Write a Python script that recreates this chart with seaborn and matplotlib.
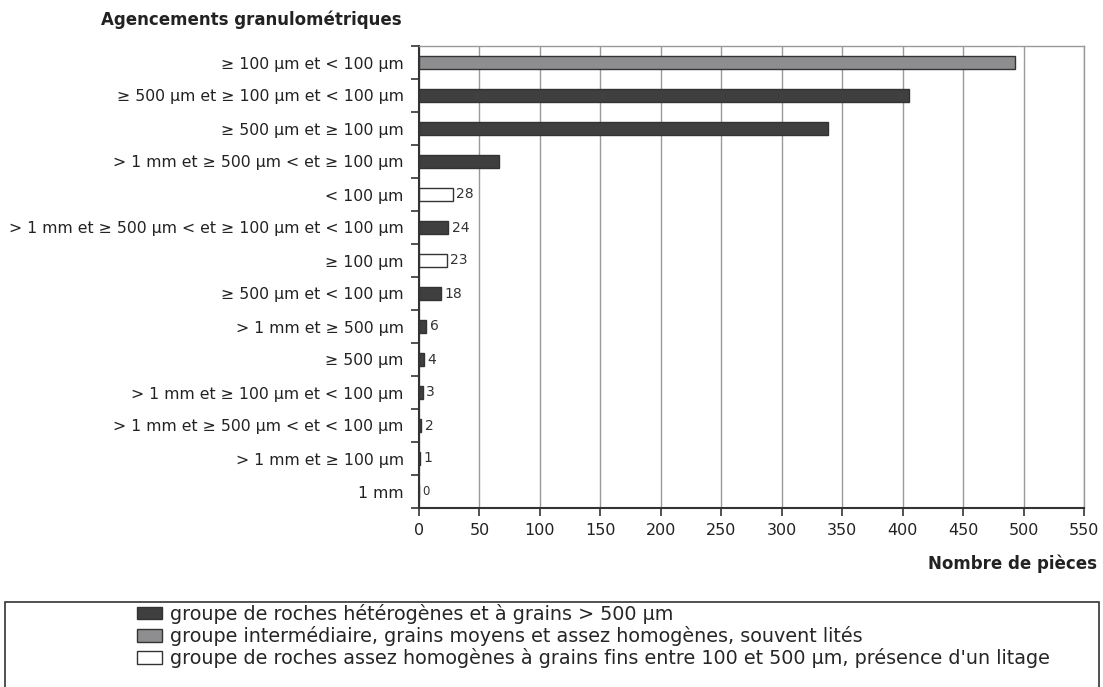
import numpy as np
import pandas as pd
import matplotlib.pyplot as plt
import seaborn as sns
from matplotlib.patches import Patch, Rectangle

sns.set_style("white")
plt.rcParams['font.family'] = ['DejaVu Sans']

# data
categories = [
    "≥ 100 µm et < 100 µm",
    "≥ 500 µm et ≥ 100 µm et < 100 µm",
    "≥ 500 µm et ≥ 100 µm",
    "> 1 mm et ≥ 500 µm < et ≥ 100 µm",
    "< 100 µm",
    "> 1 mm et ≥ 500 µm < et ≥ 100 µm et < 100 µm",
    "≥ 100 µm",
    "≥ 500 µm et < 100 µm",
    "> 1 mm et ≥ 500 µm",
    "≥ 500 µm",
    "> 1 mm et ≥ 100 µm et < 100 µm",
    "> 1 mm et ≥ 500 µm < et < 100 µm",
    "> 1 mm et ≥ 100 µm",
    "1 mm",
]
counts = [493, 405, 338, 66, 28, 24, 23, 18, 6, 4, 3, 2, 1, 0]
groups = ["inter", "hetero", "hetero", "hetero", "fin", "hetero", "fin",
          "hetero", "hetero", "hetero", "hetero", "hetero", "hetero", "hetero"]

group_labels = {
    "hetero": "groupe de roches hétérogènes et à grains > 500 µm",
    "inter": "groupe intermédiaire, grains moyens et assez homogènes, souvent lités",
    "fin": "groupe de roches assez homogènes à grains fins entre 100 et 500 µm, présence d'un litage",
}
palette = {"hetero": "#3f3f3f", "inter": "#8e8e90", "fin": "#ffffff"}

df = pd.DataFrame({"cat": categories, "n": counts, "groupe": groups})

fig = plt.figure(figsize=(11.03, 6.87), dpi=100)
ax = fig.add_axes([419 / 1103, 1 - 508 / 687, (1084 - 419) / 1103, (508 - 46) / 687])

sns.barplot(data=df, y="cat", x="n", hue="groupe", palette=palette, order=categories,
            dodge=False, width=0.4, edgecolor="#333333", linewidth=1, legend=False, ax=ax)

# value labels for the small bars
for i, (c, v) in enumerate(zip(categories, counts)):
    if v <= 30:
        ax.text(v + 3, i, str(v), va="center", ha="left", fontsize=10 if v else 8.5,
                color="#333333")

ax.set_xlim(0, 550)
ax.set_ylim(len(categories) - 0.5, -0.5)
ax.set_xticks(np.arange(0, 551, 50))
ax.xaxis.grid(True, color="#999999", linewidth=1)
ax.set_axisbelow(True)
ax.set_xlabel("")
ax.set_ylabel("")

ax.set_yticks(np.arange(len(categories)))
ax.set_yticklabels(categories, fontsize=11.3, color="#222222")
ax.set_yticks(np.arange(-0.5, len(categories), 1), minor=True)
ax.tick_params(axis="y", which="major", length=0, pad=11)
ax.tick_params(axis="y", which="minor", length=6, width=1.2, color="#333333", direction="out", left=True)
ax.tick_params(axis="x", length=6, width=1.2, color="#333333", labelsize=11.5,
               labelcolor="#222222", direction="out", bottom=True, pad=5)

for s in ["left", "bottom"]:
    ax.spines[s].set_color("#333333")
    ax.spines[s].set_linewidth(1.5)
for s in ["top", "right"]:
    ax.spines[s].set_color("#999999")
    ax.spines[s].set_linewidth(1)

fig.text(402 / 1103, 1 - 20 / 687, "Agencements granulométriques", ha="right", va="center",
         fontsize=12, fontweight="bold", color="#222222")
fig.text(1097 / 1103, 1 - 564 / 687, "Nombre de pièces", ha="right", va="center",
         fontsize=12, fontweight="bold", color="#222222")

# legend box
fig.patches.append(Rectangle((5 / 1103, -0.05), 1094 / 1103, 0.05 + 1 - 602 / 687,
                             transform=fig.transFigure, fill=False, edgecolor="#333333",
                             linewidth=1.2))
handles = [Patch(facecolor=palette[g], edgecolor="#333333", label=group_labels[g])
           for g in ["hetero", "inter", "fin"]]
fig.legend(handles=handles, loc="upper left", bbox_to_anchor=(133 / 1103, 1 - 600 / 687),
           frameon=False, fontsize=13.8, handlelength=1.3, handleheight=0.65,
           handletextpad=0.45, labelspacing=0.12, borderpad=0.2, borderaxespad=0)

fig.savefig("out.png", dpi=100)
